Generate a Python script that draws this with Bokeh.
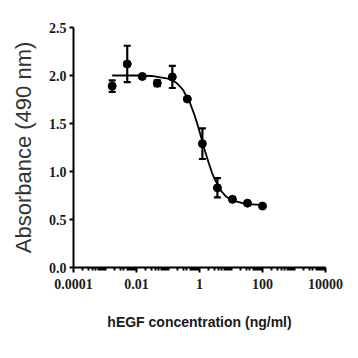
from bokeh.plotting import figure
from bokeh.models import Range1d, FixedTicker, PrintfTickFormatter, Whisker, TeeHead, ColumnDataSource
from bokeh.embed import file_html
from bokeh.resources import INLINE

# ---- data ----
conc = [0.00169, 0.00508, 0.01524, 0.04572, 0.1372, 0.4115, 1.235, 3.704, 11.11, 33.33, 100.0]
absorb = [1.89, 2.12, 1.99, 1.92, 1.985, 1.755, 1.29, 0.83, 0.71, 0.67, 0.64]
err = [0.06, 0.19, 0.01, 0.03, 0.115, 0.02, 0.16, 0.10, 0.02, 0.01, 0.02]

fit_x = [0.00169, 0.01, 0.03, 0.1, 0.15, 0.2, 0.3, 0.5, 0.7, 0.85, 1.0, 1.2, 1.5, 2.0, 2.5, 3.0, 5.0, 7.0, 10.0, 30.0, 100.0]
fit_y = [2.00, 2.00, 1.995, 1.968, 1.942, 1.914, 1.85, 1.714, 1.584, 1.496, 1.417, 1.325, 1.21, 1.08, 0.987, 0.923, 0.792, 0.739, 0.704, 0.661, 0.652]

x_ticks = [0.0001, 0.01, 1, 100, 10000]
x_tick_labels = ["0.0001", "0.01", "1", "100", "10000"]
y_ticks = [0.0, 0.5, 1.0, 1.5, 2.0, 2.5]

minor = []
for k in range(-4, 4):
    for m in range(1, 10):
        if m == 1 and k % 2 == 0:
            continue
        minor.append(m * 10.0 ** k)

p = figure(width=358, height=358, x_axis_type="log",
           x_range=Range1d(1e-4, 1e4), y_range=Range1d(0, 2.5),
           output_backend="svg", toolbar_location=None,
           min_border_left=73, min_border_right=33, min_border_top=27, min_border_bottom=91)
p.outline_line_color = None
p.xgrid.visible = False
p.ygrid.visible = False
p.background_fill_color = "white"
p.border_fill_color = "white"

src = ColumnDataSource(dict(x=conc, y=absorb,
                            upper=[a + e for a, e in zip(absorb, err)],
                            lower=[a - e for a, e in zip(absorb, err)]))

p.line(fit_x, fit_y, line_color="black", line_width=1.8)
w = Whisker(source=src, base="x", upper="upper", lower="lower", dimension="height",
            line_color="black", line_width=2.2,
            upper_head=TeeHead(size=7, line_width=2.2, line_color="black"),
            lower_head=TeeHead(size=7, line_width=2.2, line_color="black"))
p.add_layout(w)
p.scatter("x", "y", source=src, size=8, marker="circle", fill_color="black", line_color="black")

tick_font = "Liberation Sans Narrow"
for ax in (p.xaxis[0], p.yaxis[0]):
    ax.axis_line_width = 2
    ax.axis_line_color = "black"
    ax.major_tick_line_width = 2
    ax.major_tick_line_color = "black"
    ax.major_tick_in = 0
    ax.major_tick_out = 5
    ax.major_label_text_font = tick_font
    ax.major_label_text_font_style = "bold"
    ax.major_label_text_font_size = "14px"
    ax.major_label_text_color = "#1a1a1a"

xa = p.xaxis[0]
xa.ticker = FixedTicker(ticks=x_ticks, minor_ticks=minor)
xa.major_label_overrides = {t: l for t, l in zip(x_ticks, x_tick_labels)}
xa.minor_tick_line_color = "black"
xa.minor_tick_line_width = 2
xa.minor_tick_in = 0
xa.minor_tick_out = 3
xa.major_label_standoff = 6
xa.axis_label = "hEGF concentration (ng/ml)"
xa.axis_label_text_font = "Liberation Sans"
xa.axis_label_text_font_style = "bold"
xa.axis_label_text_font_size = "14px"
xa.axis_label_text_color = "#1a1a1a"
xa.axis_label_standoff = 22

ya = p.yaxis[0]
ya.ticker = FixedTicker(ticks=y_ticks, minor_ticks=[])
ya.formatter = PrintfTickFormatter(format="%.1f")
ya.minor_tick_line_color = None
ya.major_tick_out = 4
ya.major_label_standoff = 3
ya.axis_label = "Absorbance (490 nm)"
ya.axis_label_text_font = "Liberation Sans"
ya.axis_label_text_font_style = "normal"
ya.axis_label_text_font_size = "22px"
ya.axis_label_text_color = "#333333"
ya.axis_label_standoff = 10

open("out.html", "w").write(file_html(p, INLINE))
